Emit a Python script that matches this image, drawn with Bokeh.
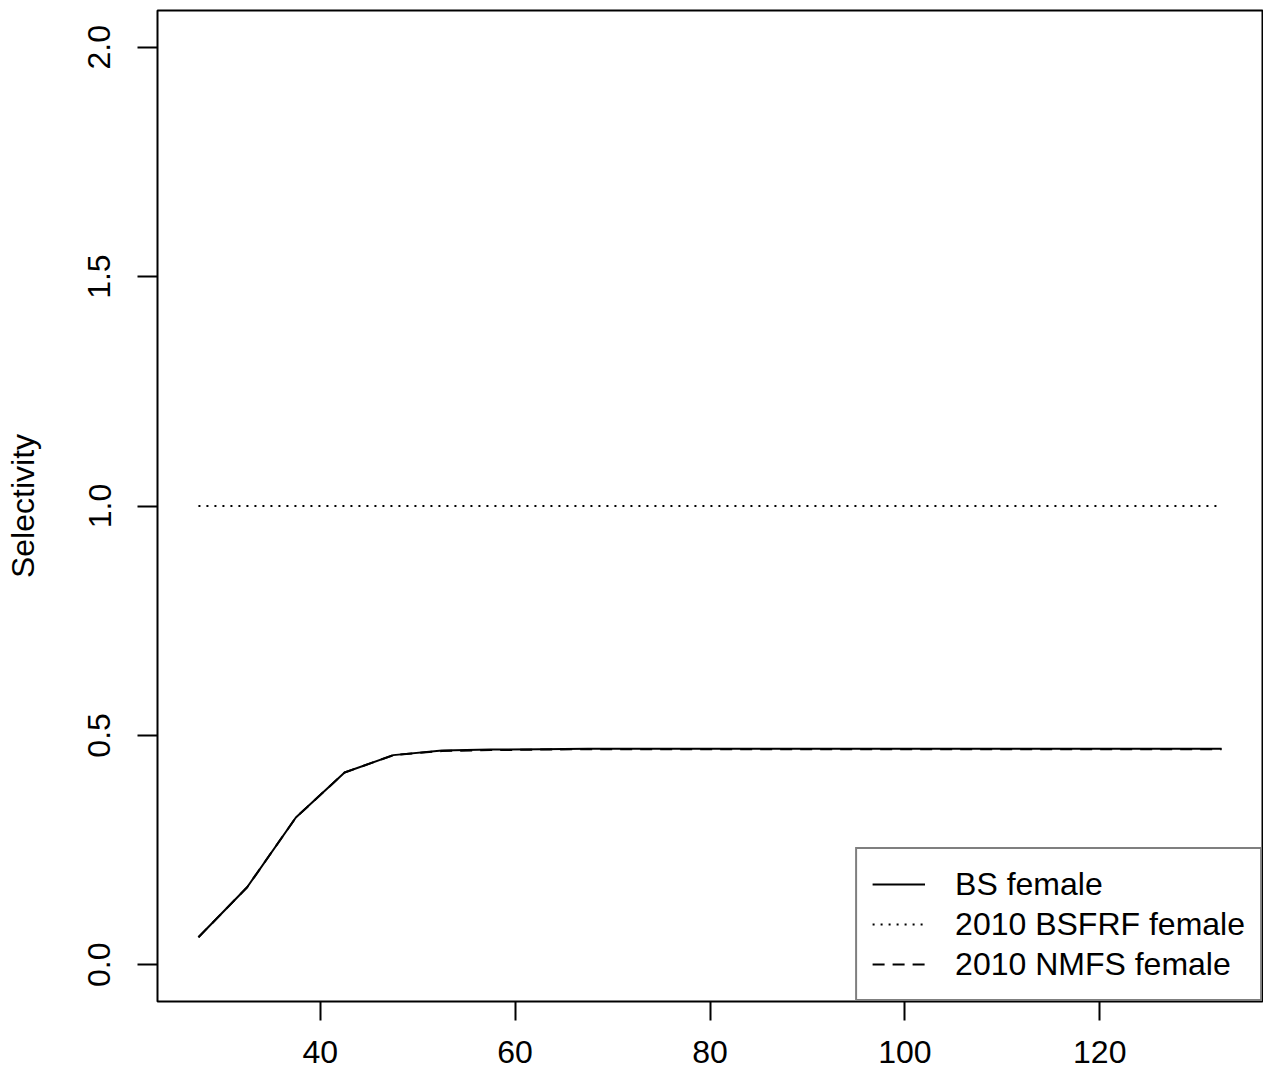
from bokeh.plotting import figure
from bokeh.models import Range1d, FixedTicker, Legend, LegendItem
from bokeh.embed import file_html
from bokeh.resources import INLINE

# ---- data ----
lengths = [27.5, 32.5, 37.5, 42.5, 47.5, 52.5, 57.5, 62.5, 67.5, 72.5, 77.5,
           82.5, 87.5, 92.5, 97.5, 102.5, 107.5, 112.5, 117.5, 122.5, 127.5, 132.5]
bs_female = [0.060, 0.169, 0.321, 0.419, 0.457, 0.467, 0.469, 0.470, 0.471, 0.471, 0.471,
             0.471, 0.471, 0.471, 0.471, 0.471, 0.471, 0.471, 0.471, 0.471, 0.471, 0.471]
bsfrf_2010_female = [1.0] * 22
nmfs_2010_female = [0.060, 0.169, 0.321, 0.419, 0.457, 0.466, 0.468, 0.469, 0.470, 0.470, 0.470,
                    0.470, 0.470, 0.470, 0.470, 0.470, 0.470, 0.470, 0.470, 0.470, 0.470, 0.470]
x_ticks = [40, 60, 80, 100, 120]
y_ticks = [0.0, 0.5, 1.0, 1.5, 2.0]
y_tick_labels = ["0.0", "0.5", "1.0", "1.5", "2.0"]
legend_labels = ["BS female", "2010 BSFRF female", "2010 NMFS female"]

FONT = "Liberation Sans"
FS = "32px"

p = figure(width=1263, height=1076, output_backend="svg", toolbar_location=None,
           x_range=Range1d(23.3, 136.7), y_range=Range1d(-0.08, 2.08),
           min_border_left=157, min_border_right=1, min_border_top=10, min_border_bottom=75)

p.background_fill_color = "white"
p.border_fill_color = "white"
p.outline_line_color = "black"
p.outline_line_width = 2
p.xgrid.visible = False
p.ygrid.visible = False

r1 = p.line(lengths, bs_female, line_color="black", line_width=2)
r2 = p.line(lengths, bsfrf_2010_female, line_color="black", line_width=2, line_dash="2 6")
r3 = p.line(lengths, nmfs_2010_female, line_color="black", line_width=2, line_dash="12 8")

for ax in (p.xaxis[0], p.yaxis[0]):
    ax.axis_line_color = None
    ax.major_tick_line_color = "black"
    ax.major_tick_line_width = 2
    ax.major_tick_in = 0
    ax.minor_tick_line_color = None
    ax.major_label_text_font = FONT
    ax.major_label_text_font_size = FS
    ax.major_label_text_color = "black"
    ax.axis_label_text_font = FONT
    ax.axis_label_text_font_size = FS
    ax.axis_label_text_font_style = "normal"
    ax.axis_label_text_color = "black"

p.xaxis[0].ticker = FixedTicker(ticks=x_ticks)
p.xaxis[0].major_tick_out = 19
p.xaxis[0].major_label_standoff = 20

p.yaxis[0].ticker = FixedTicker(ticks=y_ticks)
p.yaxis[0].major_label_overrides = {t: l for t, l in zip(y_ticks, y_tick_labels)}
p.yaxis[0].major_tick_out = 20
p.yaxis[0].major_label_standoff = 27
p.yaxis[0].major_label_orientation = "vertical"
p.yaxis[0].axis_label = "Selectivity"
p.yaxis[0].axis_label_standoff = 45

legend = Legend(items=[LegendItem(label=legend_labels[0], renderers=[r1]),
                       LegendItem(label=legend_labels[1], renderers=[r2]),
                       LegendItem(label=legend_labels[2], renderers=[r3])],
                location="bottom_right", margin=0, padding=15, spacing=0,
                label_height=40, glyph_height=40, glyph_width=53, label_standoff=30,
                label_text_font=FONT, label_text_font_size=FS, label_text_color="black",
                border_line_color="black", border_line_width=2,
                background_fill_color="white", background_fill_alpha=1.0)
p.add_layout(legend, "center")

open("out.html", "w").write(file_html(p, INLINE))
